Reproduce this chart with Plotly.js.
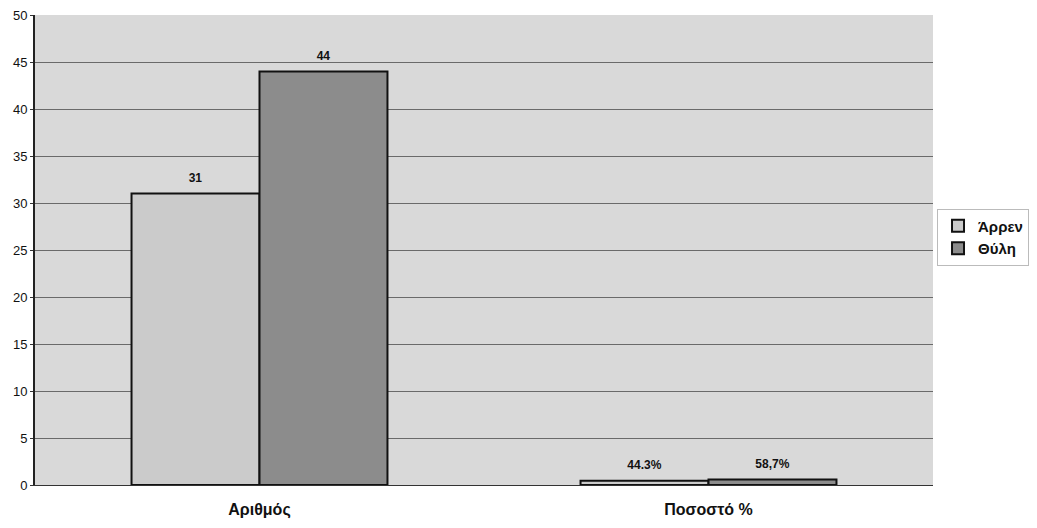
<!DOCTYPE html>
<html>
<head>
<meta charset="utf-8">
<script src="https://cdn.plot.ly/plotly-3.0.1.min.js"></script>
<style>body{margin:0;background:#fff}#chart{width:1037px;height:528px}</style>
</head>
<body>
<div id="chart"></div>
<script>
const categories = ["Αριθμός", "Ποσοστό %"];
const seriesNames = ["Άρρεν", "Θύλη"];
const maleValues = [31, 0.443];
const femaleValues = [44, 0.587];
const maleLabels = ["31", "44.3%"];
const femaleLabels = ["44", "58,7%"];
const yTicks = [0, 5, 10, 15, 20, 25, 30, 35, 40, 45, 50];

const font = "Liberation Sans, Arial, sans-serif";
const mk = (name, y, text, color) => ({
  type: "bar", name: name, x: categories, y: y,
  text: text.map(t => "<span style='font-size:12px'>" + t + "</span><br>\u00a0"),
  textposition: "outside", cliponaxis: false,
  textfont: {family: font, size: 6, color: "#111", weight: "bold"},
  marker: {color: color, line: {color: "#111", width: 2}},
  hoverinfo: "skip"
});
const data = [
  mk(seriesNames[0], maleValues, maleLabels, "#cbcbcb"),
  mk(seriesNames[1], femaleValues, femaleLabels, "#8c8c8c")
];
const layout = {
  width: 1037, height: 528,
  margin: {l: 35, r: 104, t: 15, b: 43},
  paper_bgcolor: "#ffffff", plot_bgcolor: "#d9d9d9",
  barmode: "group", bargap: 0.43, bargroupgap: 0,
  font: {family: font, color: "#111"},
  showlegend: true,
  legend: {xref: "container", yref: "container", x: 0.9036, xanchor: "left", y: 0.551, yanchor: "middle",
    bgcolor: "#ffffff", bordercolor: "#bbbbbb", borderwidth: 1,
    font: {family: font, size: 15, color: "#111", weight: "bold"},
    traceorder: "normal", itemwidth: 30},
  xaxis: {type: "category", showgrid: false, ticks: "", showline: true, linecolor: "#333", linewidth: 1,
    ticklabelstandoff: 10,
    tickfont: {family: font, size: 16, color: "#111", weight: "bold"}, fixedrange: true},
  yaxis: {range: [0, 50], tickvals: yTicks, showgrid: true, gridcolor: "#6a6a6a", gridwidth: 1,
    showline: true, linecolor: "#222", linewidth: 2, ticks: "outside", ticklen: 3, tickcolor: "#333",
    zeroline: false, tickfont: {family: font, size: 13, color: "#111"}, fixedrange: true}
};
Plotly.newPlot("chart", data, layout, {displayModeBar: false, staticPlot: true});
</script>
</body>
</html>
